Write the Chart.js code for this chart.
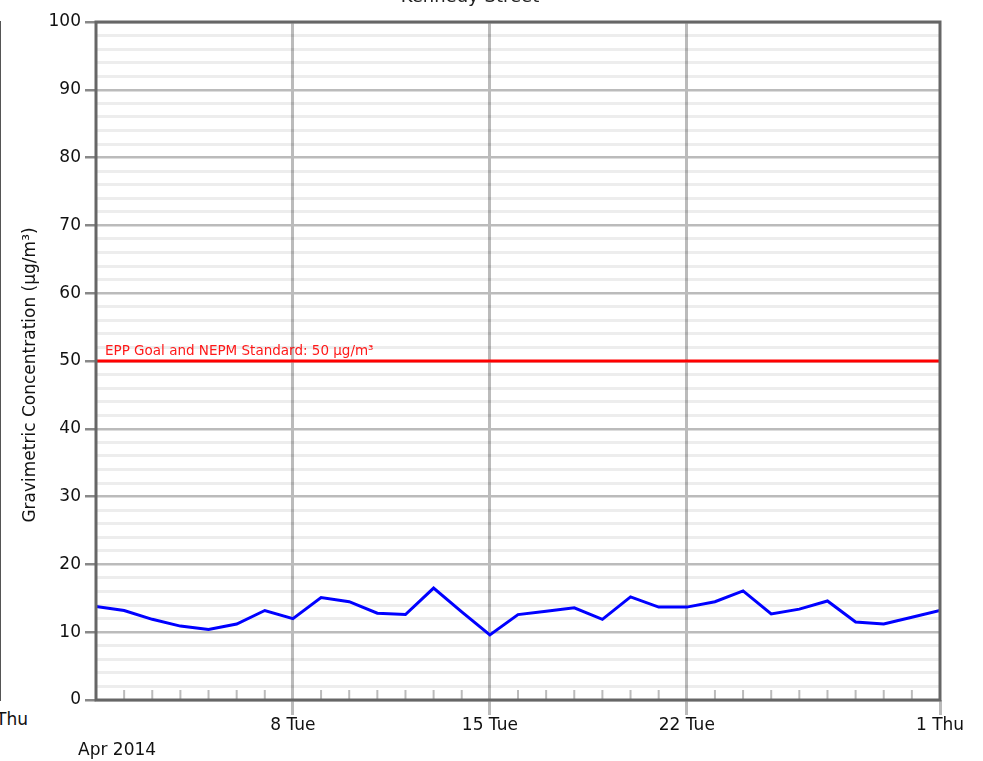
<!DOCTYPE html>
<html>
<head>
<meta charset="utf-8">
<script src="https://cdn.jsdelivr.net/npm/chart.js@4.4.0/dist/chart.umd.min.js"></script>
<style>
  html, body { margin: 0; padding: 0; background: #fff; overflow: hidden; }
  #wrap { position: absolute; left: 0; top: -13px; width: 983px; height: 774px; }
  /* edge of the neighbouring panel */
  #prevPanel { position: absolute; left: 0; top: 21px; width: 1px; height: 680px; background: #555; }
  #prevLabel { position: absolute; left: -4px; top: 709px; font: 17px 'DejaVu Sans'; color: #111; }
</style>
</head>
<body>
<div id="prevPanel"></div>
<div id="prevLabel">Thu</div>
<div id="wrap"><canvas id="chart" width="983" height="774"></canvas></div>
<script>
// daily PM10 (gravimetric), 1 Apr - 1 May 2014
const pm10 = [
  13.8, 13.2, 11.9, 10.9, 10.4, 11.2, 13.2, 12.0, 15.1, 14.5,
  12.8, 12.6, 16.5, 13.0, 9.6, 12.6, 13.1, 13.6, 11.9, 15.2,
  13.7, 13.7, 14.5, 16.1, 12.7, 13.4, 14.6, 11.5, 11.2, 12.2,
  13.2
];
const weekTicks = [0, 7, 14, 21, 30];
const weekLabels = ['', '8 Tue', '15 Tue', '22 Tue', '1 Thu'];
const monthLabel = 'Apr 2014';
const goal = 50;
const goalLabel = 'EPP Goal and NEPM Standard: 50 µg/m³';
const siteName = 'Kennedy Street';
const yTitle = 'Gravimetric Concentration (µg/m³)';

const FONT = 'DejaVu Sans';

const extras = {
  id: 'extras',
  afterDatasetsDraw(chart) {
    const { ctx, chartArea: a, scales: { x, y } } = chart;
    ctx.save();

    // daily tick marks along the bottom
    ctx.strokeStyle = '#bbbbbb';
    ctx.lineWidth = 2;
    for (let d = weekTicks[0] + 1; d < weekTicks[weekTicks.length - 1]; d++) {
      if (weekTicks.includes(d)) continue;
      const px = x.getPixelForValue(d);
      ctx.beginPath();
      ctx.moveTo(px, a.bottom - 10);
      ctx.lineTo(px, a.bottom);
      ctx.stroke();
    }

    // frame
    ctx.strokeStyle = '#666666';
    ctx.lineWidth = 3;
    ctx.strokeRect(a.left, a.top, a.right - a.left, a.bottom - a.top);

    // goal label
    ctx.fillStyle = 'rgba(255,0,0,0.9)';
    ctx.font = '13.5px ' + FONT;
    ctx.textAlign = 'left';
    ctx.textBaseline = 'alphabetic';
    ctx.fillText(goalLabel, a.left + 9, y.getPixelForValue(goal) - 6);

    // month under the first day
    ctx.fillStyle = '#111';
    ctx.font = '17px ' + FONT;
    ctx.fillText(monthLabel, x.getPixelForValue(0) - 18, a.bottom + 55);

    // y axis title
    ctx.translate(31, (a.top + a.bottom) / 2 + 14);
    ctx.rotate(-Math.PI / 2);
    ctx.textAlign = 'center';
    ctx.textBaseline = 'middle';
    ctx.fillText(yTitle, 0, 0);
    ctx.restore();
  }
};

new Chart(document.getElementById('chart'), {
  type: 'line',
  data: {
    datasets: [
      {
        data: pm10.map((v, i) => ({ x: i, y: v })),
        borderColor: '#0000ff',
        borderWidth: 3,
        pointRadius: 0,
        tension: 0
      },
      {
        data: [{ x: weekTicks[0], y: goal }, { x: weekTicks[weekTicks.length - 1], y: goal }],
        borderColor: '#ff0000',
        borderWidth: 3,
        pointRadius: 0
      }
    ]
  },
  options: {
    responsive: false,
    animation: false,
    devicePixelRatio: 1,
    layout: { padding: { left: 0, right: 43, top: 0, bottom: 0 } },
    plugins: {
      legend: { display: false },
      tooltip: { enabled: false },
      title: {
        display: true,
        text: siteName,
        color: '#222',
        font: { family: FONT, size: 18, weight: 'normal', lineHeight: 1.2 },
        padding: { top: 0, bottom: 13.4 }
      }
    },
    scales: {
      x: {
        type: 'linear',
        min: weekTicks[0],
        max: weekTicks[weekTicks.length - 1],
        afterBuildTicks: (s) => { s.ticks = weekTicks.map(v => ({ value: v })); },
        afterFit: (s) => { s.height = 61; },
        border: { display: false },
        grid: {
          color: (c) => (c.tick && (c.tick.value === 0 || c.tick.value === 30)) ? 'rgba(0,0,0,0)' : '#bbbbbb',
          lineWidth: 3,
          tickLength: 15,
          tickColor: (c) => (c.tick && c.tick.value === 0) ? 'rgba(0,0,0,0)' : '#bbbbbb'
        },
        ticks: {
          autoSkip: false,
          maxRotation: 0,
          padding: 0,
          color: '#111',
          font: { family: FONT, size: 17 },
          callback: (v) => weekLabels[weekTicks.indexOf(v)] ?? ''
        }
      },
      y: {
        min: 0,
        max: 100,
        afterFit: (s) => { s.width = 96; },
        border: { display: false },
        grid: {
          color: (c) => c.tick.value % 10 === 0 ? '#bbbbbb' : 'rgba(0,0,0,0.07)',
          lineWidth: (c) => c.tick.value % 10 === 0 ? 2.5 : 3,
          tickLength: 11,
          tickColor: (c) => c.tick.value % 10 === 0 ? '#888888' : 'rgba(0,0,0,0)'
        },
        ticks: {
          stepSize: 2,
          autoSkip: false,
          padding: 4,
          color: '#111',
          font: { family: FONT, size: 17 },
          callback: (v) => v % 10 === 0 ? String(v) : ''
        }
      }
    }
  },
  plugins: [extras]
});
</script>
</body>
</html>
